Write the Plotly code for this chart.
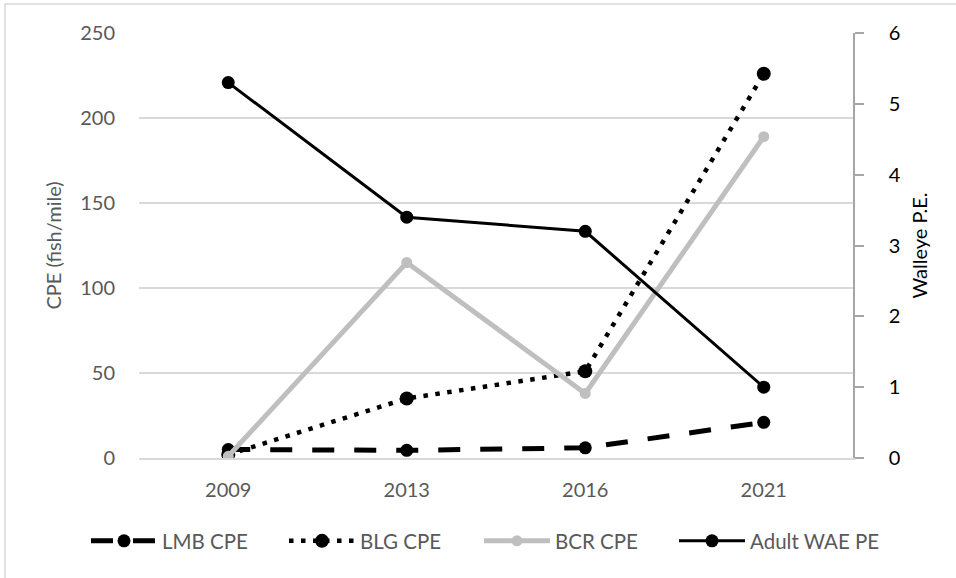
import plotly.graph_objects as go

years = ["2009", "2013", "2016", "2021"]
lmb_cpe = [5, 4.5, 6, 21]
blg_cpe = [2, 35, 51, 226]
bcr_cpe = [1, 115, 38, 189]
wae_pe = [5.3, 3.4, 3.2, 1.0]

left_ticks = [0, 50, 100, 150, 200, 250]
right_ticks = [0, 1, 2, 3, 4, 5, 6]

FONT = "Lato"
GREY_TXT = "#595959"

fig = go.Figure()
fig.add_trace(go.Scatter(
    x=years, y=lmb_cpe, name="LMB CPE", mode="lines+markers", legend="legend",
    line=dict(color="black", width=5, dash="22px,20px"),
    marker=dict(color="black", size=13)))
fig.add_trace(go.Scatter(
    x=years, y=blg_cpe, name="BLG CPE", mode="lines+markers", legend="legend2",
    line=dict(color="black", width=4.5, dash="4.5px,7.5px"),
    marker=dict(color="black", size=14)))
fig.add_trace(go.Scatter(
    x=years, y=bcr_cpe, name="BCR CPE", mode="lines+markers", legend="legend3",
    line=dict(color="#bfbfbf", width=5),
    marker=dict(color="#bfbfbf", size=11)))
fig.add_trace(go.Scatter(
    x=years, y=wae_pe, name="Adult WAE PE", mode="lines+markers", legend="legend4",
    line=dict(color="black", width=3),
    marker=dict(color="black", size=13), yaxis="y2"))


def leg(px):
    return dict(orientation="h", xref="container", x=(px - 6) / 956, xanchor="left",
                yref="container", y=1 - 541 / 578, yanchor="middle",
                itemwidth=66, bgcolor="rgba(0,0,0,0)",
                font=dict(family=FONT, size=20.5, color=GREY_TXT),
                itemclick=False, itemdoubleclick=False)


fig.update_layout(
    width=956, height=578,
    margin=dict(l=139, r=103, t=33, b=120, autoexpand=False),
    paper_bgcolor="white", plot_bgcolor="white",
    font=dict(family=FONT, size=20, color=GREY_TXT),
    showlegend=True,
    legend=leg(92), legend2=leg(290), legend3=leg(485), legend4=leg(680),
    xaxis=dict(type="category", range=[-0.5, 3.5], showgrid=False,
               showline=True, linecolor="#d9d9d9", linewidth=1.5,
               ticks="", ticklabelstandoff=13,
               tickfont=dict(family=FONT, size=20, color=GREY_TXT)),
    yaxis=dict(range=[0, 250], tickvals=left_ticks, showgrid=True,
               gridcolor="#d9d9d9", gridwidth=1.5, zeroline=False,
               showline=False, ticks="", ticklabelstandoff=23,
               tickfont=dict(family=FONT, size=20, color=GREY_TXT),
               title=dict(text="CPE (fish/mile)", standoff=13,
                          font=dict(family=FONT, size=20, color=GREY_TXT))),
    yaxis2=dict(range=[0, 6], tickvals=right_ticks, overlaying="y", side="right",
                showgrid=False, zeroline=False, showline=True,
                linecolor="#a6a6a6", linewidth=1.5, ticks="outside",
                ticklen=9, tickwidth=1.5, tickcolor="#a6a6a6",
                ticklabelstandoff=21,
                tickfont=dict(family=FONT, size=20, color="black"),
                title=dict(text="Walleye P.E.", standoff=13,
                           font=dict(family=FONT, size=20, color="black"))),
    shapes=[dict(type="rect", xref="paper", yref="paper",
                 x0=(5 - 139) / 714, x1=1.3, y0=-0.5, y1=(458 - 4) / 425,
                 line=dict(color="#d9d9d9", width=1.5), fillcolor="rgba(0,0,0,0)",
                 layer="below")],
)

fig.write_html("out.html", config={"displayModeBar": False},
               post_script="document.body.style.margin='0';document.body.style.padding='0';")
